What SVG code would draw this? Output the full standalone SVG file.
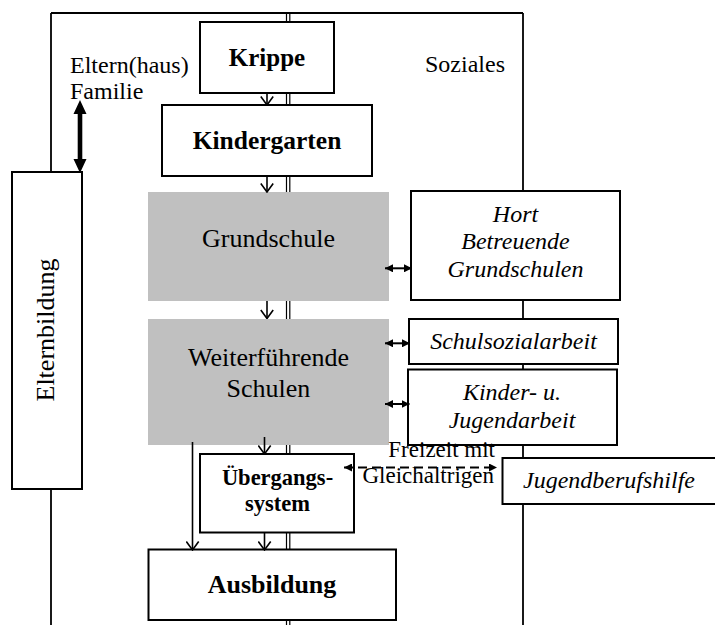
<svg xmlns="http://www.w3.org/2000/svg" width="715" height="625" viewBox="0 0 715 625">
<style>
.box{fill:#fff;stroke:#000;stroke-width:2}
.grey{fill:#c0c0c0;stroke:none}
.t{font-family:"Liberation Serif","Times New Roman",serif;fill:#000;text-anchor:middle}
.b{font-weight:bold}
.i{font-style:italic}
.fr{stroke:#000;stroke-width:1.8;fill:none}
.dl{stroke:#000;stroke-width:1.2;fill:none}
.arr{stroke:#000;stroke-width:1.6;fill:none;marker-end:url(#v)}
.dbl{stroke:#000;stroke-width:2;fill:none;marker-start:url(#f);marker-end:url(#f)}
</style>
<defs>
<marker id="v" viewBox="0 0 10 14" refX="9.5" refY="7" markerWidth="10" markerHeight="14" markerUnits="userSpaceOnUse" orient="auto"><path d="M1,0.8 L9.5,7 L1,13.2" fill="none" stroke="#000" stroke-width="1.6"/></marker>
<marker id="f" viewBox="0 0 8 8" refX="8" refY="4" markerWidth="8" markerHeight="8" markerUnits="userSpaceOnUse" orient="auto-start-reverse"><path d="M0,0 L8,4 L0,8 z" fill="#000"/></marker>
</defs>
<g id="frame">
<line class="fr" x1="51" y1="13" x2="523" y2="13"/>
<line class="fr" x1="51" y1="13" x2="51" y2="625"/>
<line class="fr" x1="523" y1="13" x2="523" y2="625"/>
<line class="dl" x1="286.5" y1="13" x2="286.5" y2="625"/>
<line class="dl" x1="289.8" y1="13" x2="289.8" y2="625"/>
</g>
<g id="grundschule"><rect class="grey" x="148" y="192" width="241" height="109"/><text class="t" x="268.5" y="246.5" font-size="26">Grundschule</text></g>
<g id="weiterfuehrende"><rect class="grey" x="148" y="319" width="241" height="126"/><text class="t" x="268.5" y="365.5" font-size="26">Weiterführende</text><text class="t" x="268.5" y="397" font-size="26">Schulen</text></g>
<g id="krippe"><rect class="box" x="200" y="22" width="134" height="71"/><text class="t b" x="267" y="66" font-size="25">Krippe</text></g>
<g id="kindergarten"><rect class="box" x="162" y="105" width="210" height="71"/><text class="t b" x="267" y="149" font-size="25.5">Kindergarten</text></g>
<g id="elternbildung"><rect class="box" x="12" y="172" width="70" height="317"/><text class="t" transform="translate(53.5,330) rotate(-90)" x="0" y="0" font-size="26">Elternbildung</text></g>
<g id="eltern"><text class="t" style="text-anchor:start" x="70" y="73" font-size="24">Eltern(haus)</text><text class="t" style="text-anchor:start" x="70" y="99" font-size="24">Familie</text></g>
<g id="soziales"><text class="t" style="text-anchor:start" x="425" y="71.5" font-size="24">Soziales</text></g>
<g id="hort"><rect class="box" x="411" y="191" width="209" height="109"/><text class="t i" x="515.5" y="221.5" font-size="24">Hort</text><text class="t i" x="515.5" y="249" font-size="24">Betreuende</text><text class="t i" x="515.5" y="276.5" font-size="24">Grundschulen</text></g>
<g id="schulsozialarbeit"><rect class="box" x="409" y="319" width="209" height="45"/><text class="t i" x="513.5" y="349" font-size="24">Schulsozialarbeit</text></g>
<g id="jugendarbeit"><rect class="box" x="408" y="369.5" width="209" height="75.5"/><text class="t i" x="512" y="400" font-size="24">Kinder- u.</text><text class="t i" x="512" y="428" font-size="24">Jugendarbeit</text></g>
<g id="uebergang"><rect class="box" x="200" y="454" width="154" height="78.5"/><text class="t b" x="277.5" y="485" font-size="22.5">Übergangs-</text><text class="t b" x="277.5" y="510.5" font-size="22.5">system</text></g>
<g id="ausbildung"><rect class="box" x="148.5" y="549.5" width="247.5" height="70.5"/><text class="t b" x="272" y="593" font-size="26">Ausbildung</text></g>
<g id="jugendberufshilfe"><rect class="box" x="502.5" y="458" width="216" height="46"/><text class="t i" x="609" y="488" font-size="24">Jugendberufshilfe</text></g>
<g id="connectors">
<line class="arr" x1="267" y1="93" x2="267" y2="105"/>
<line class="arr" x1="267" y1="176" x2="267" y2="192"/>
<line class="arr" x1="267" y1="301" x2="267" y2="318.5"/>
<line class="arr" x1="264.5" y1="437" x2="264.5" y2="454"/>
<line class="arr" x1="192.5" y1="442" x2="192.5" y2="550"/>
<line class="arr" x1="264.5" y1="533" x2="264.5" y2="550"/>
<line class="dbl" x1="385" y1="268.3" x2="412" y2="268.3"/>
<line class="dbl" x1="385" y1="343.3" x2="410" y2="343.3"/>
<line class="dbl" x1="385" y1="404" x2="409.5" y2="404"/>
<line stroke="#000" stroke-width="2" stroke-dasharray="9,5" x1="344" y1="467.5" x2="497" y2="467.5" marker-start="url(#f)" marker-end="url(#f)"/>
<path d="M80,100 L86.5,114 L82.3,114 L82.3,159 L86.5,159 L80,173 L73.5,159 L77.7,159 L77.7,114 L73.5,114 Z" fill="#000"/>
</g>
<g id="freizeit"><text class="t" style="text-anchor:end" x="495" y="456.5" font-size="23">Freizeit mit</text><text class="t" style="text-anchor:end" x="494" y="483" font-size="23">Gleichaltrigen</text></g>
</svg>
